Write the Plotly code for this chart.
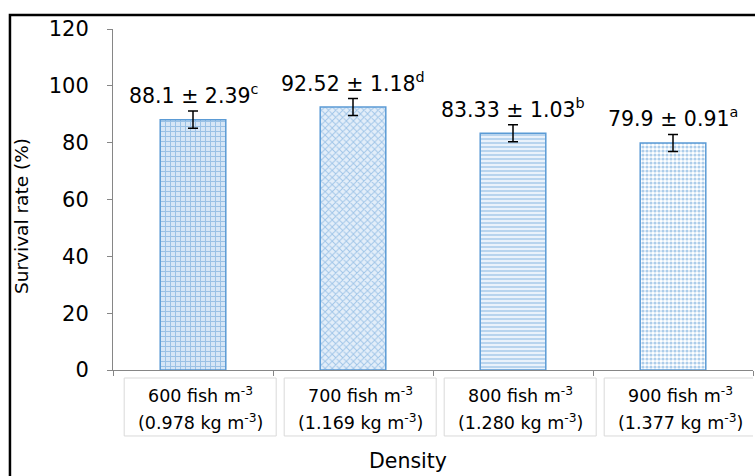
import plotly.graph_objects as go

cat_line1 = ["600 fish m<sup>-3</sup>", "700 fish m<sup>-3</sup>",
             "800 fish m<sup>-3</sup>", "900 fish m<sup>-3</sup>"]
cat_line2 = ["(0.978 kg m<sup>-3</sup>)", "(1.169 kg m<sup>-3</sup>)",
             "(1.280 kg m<sup>-3</sup>)", "(1.377 kg m<sup>-3</sup>)"]
survival = [88.1, 92.52, 83.33, 79.9]
sd_text = [2.39, 1.18, 1.03, 0.91]
errbar = [3.0, 3.0, 3.0, 3.0]   # drawn error-bar half-lengths
letters = ["c", "d", "b", "a"]
yticks = [0, 20, 40, 60, 80, 100, 120]

FONT = "DejaVu Sans"
styles = [
    dict(shape="+", fgcolor="#5B9BD5", bgcolor="#D6E6F6", size=5, solidity=0.35),
    dict(shape="x", fgcolor="#5B9BD5", bgcolor="#E3EEF9", size=5, solidity=0.35),
    dict(shape="-", fgcolor="#5B9BD5", bgcolor="#EAF2FB", size=4, solidity=0.35),
    dict(shape=".", fgcolor="#5B9BD5", bgcolor="#FFFFFF", size=4, solidity=0.5),
]
xpos = [1, 2, 3, 4]
fig = go.Figure()
for i in range(4):
    fig.add_trace(go.Bar(
        x=[xpos[i]], y=[survival[i]], width=0.41,
        error_y=dict(type="data", array=[errbar[i]], color="black", thickness=1.5, width=5),
        marker=dict(color="#BDD7EE", line=dict(color="#5B9BD5", width=1.5),
                    pattern=dict(fillmode="overlay", **styles[i])),
        showlegend=False))

ann = []
shapes = []
for i in range(4):
    ann.append(dict(x=xpos[i], y=survival[i] + errbar[i], xref="x", yref="y",
                    text=f"{survival[i]} ± {sd_text[i]}<sup>{letters[i]}</sup>",
                    showarrow=False, yanchor="bottom", yshift=1,
                    font=dict(family=FONT, size=20.5, color="black")))
    ann.append(dict(x=xpos[i] + 0.045, y=-0.0733, xref="x", yref="paper", yanchor="middle",
                    text=cat_line1[i], showarrow=False,
                    font=dict(family=FONT, size=17.5, color="black")))
    ann.append(dict(x=xpos[i] + 0.045, y=-0.1525, xref="x", yref="paper", yanchor="middle",
                    text=cat_line2[i], showarrow=False,
                    font=dict(family=FONT, size=17.5, color="black")))
    shapes.append(dict(type="rect", xref="x", yref="paper", x0=xpos[i] - 0.43, x1=xpos[i] + 0.52,
                       y0=-0.1935, y1=-0.0235, line=dict(color="#D9D9D9", width=1)))
ann.append(dict(x=-0.142, y=0.452, xref="paper", yref="paper", text="Survival rate (%)",
                xanchor="center", yanchor="middle",
                textangle=-90, showarrow=False, font=dict(family=FONT, size=18.5, color="black")))
ann.append(dict(x=0.461, y=-0.267, xref="paper", yref="paper", text="Density",
                xanchor="center", yanchor="middle",
                showarrow=False, font=dict(family=FONT, size=20.5, color="black")))
shapes.append(dict(type="rect", xref="paper", yref="paper", x0=-0.161, x1=1.01, y0=-0.33, y1=1.041,
                   line=dict(color="black", width=2.5), layer="below"))

fig.update_layout(
    width=755, height=476,
    margin=dict(l=113, r=2, t=29, b=106),
    plot_bgcolor="white", paper_bgcolor="white",
    annotations=ann, shapes=shapes,
    xaxis=dict(range=[0.5, 4.5], tickvals=[0.5, 1.5, 2.5, 3.5, 4.5], showticklabels=False,
               ticks="outside", ticklen=5, tickcolor="#868686", showline=True, linecolor="#868686",
               linewidth=1, showgrid=False, zeroline=False),
    yaxis=dict(range=[0, 120], tickvals=yticks, ticks="outside", ticklen=5, tickcolor="#868686",
               showline=True, linecolor="#868686", linewidth=1, showgrid=False, zeroline=False,
               ticklabelstandoff=14,
               tickfont=dict(family=FONT, size=21, color="black")),
)
fig.write_html("out.html")
